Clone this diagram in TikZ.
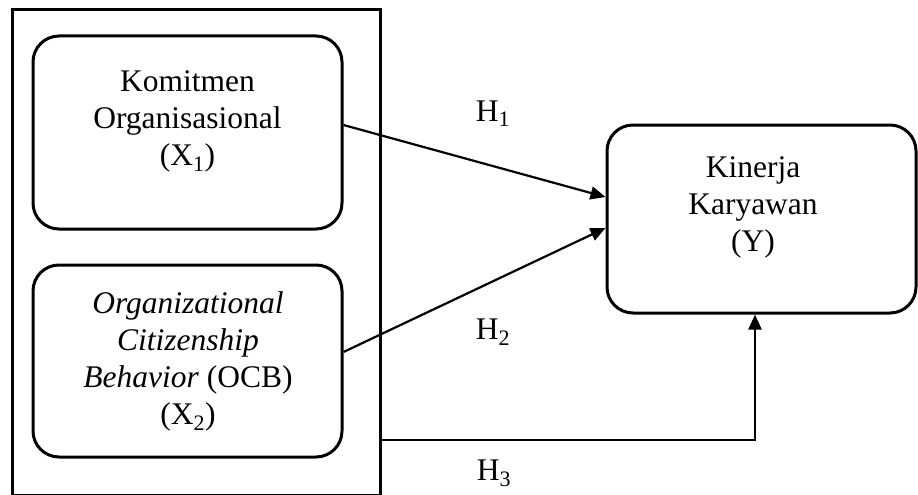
\documentclass[tikz,border=0pt]{standalone}
\usepackage{fontspec}
\setmainfont{Liberation Serif}
\usetikzlibrary{calc,arrows.meta}
\begin{document}
\begin{tikzpicture}[x=1pt,y=-1pt,
  box/.style={draw,line width=3pt,rounded corners=26pt,inner sep=0pt},
  frame/.style={draw,line width=3pt,inner sep=0pt},
  txt/.style={align=center,font=\fontsize{31.5}{37}\selectfont,inner sep=0pt},
  hlab/.style={anchor=base,font=\fontsize{31.5}{37}\selectfont,inner sep=0pt},
  conn/.style={line width=2.2pt,-{Triangle[length=15pt,width=13pt]}}]
\useasboundingbox (0,0) rectangle (918,495);
\node[frame,minimum width=368pt,minimum height=485.5pt] (outer) at (196,252.25) {};
\node[box,minimum width=309pt,minimum height=193pt] (box1) at (187.5,132.5) {};
\node[box,minimum width=309pt,minimum height=192pt] (box2) at (187.5,361) {};
\node[box,minimum width=309pt,minimum height=188pt] (kin) at (761.5,219) {};
\node[txt] (t1) at (187.5,121) {Komitmen\\Organisasional\\(X\textsubscript{1})};
\node[txt] (t2) at (188,361) {\textit{Organizational}\\\textit{Citizenship}\\\textit{Behavior} (OCB)\\(X\textsubscript{2})};
\node[txt] (t3) at (753,207) {Kinerja\\Karyawan\\(Y)};
\node[hlab] (h1) at (493,121) {H\textsubscript{1}};
\node[hlab] (h2) at (493,339) {H\textsubscript{2}};
\node[hlab] (h3) at (494,480) {H\textsubscript{3}};
\draw[conn] ($(box1.east)+(0,-7.5)$) -- ($(kin.west)+(0,-22)$);
\draw[conn] ($(box2.east)+(0,-9)$) -- ($(kin.west)+(0,9)$);
\draw[conn] ($(outer.east)+(0,187.75)$) -| ($(kin.south)+(-6.5,0)$);
\end{tikzpicture}
\end{document}
